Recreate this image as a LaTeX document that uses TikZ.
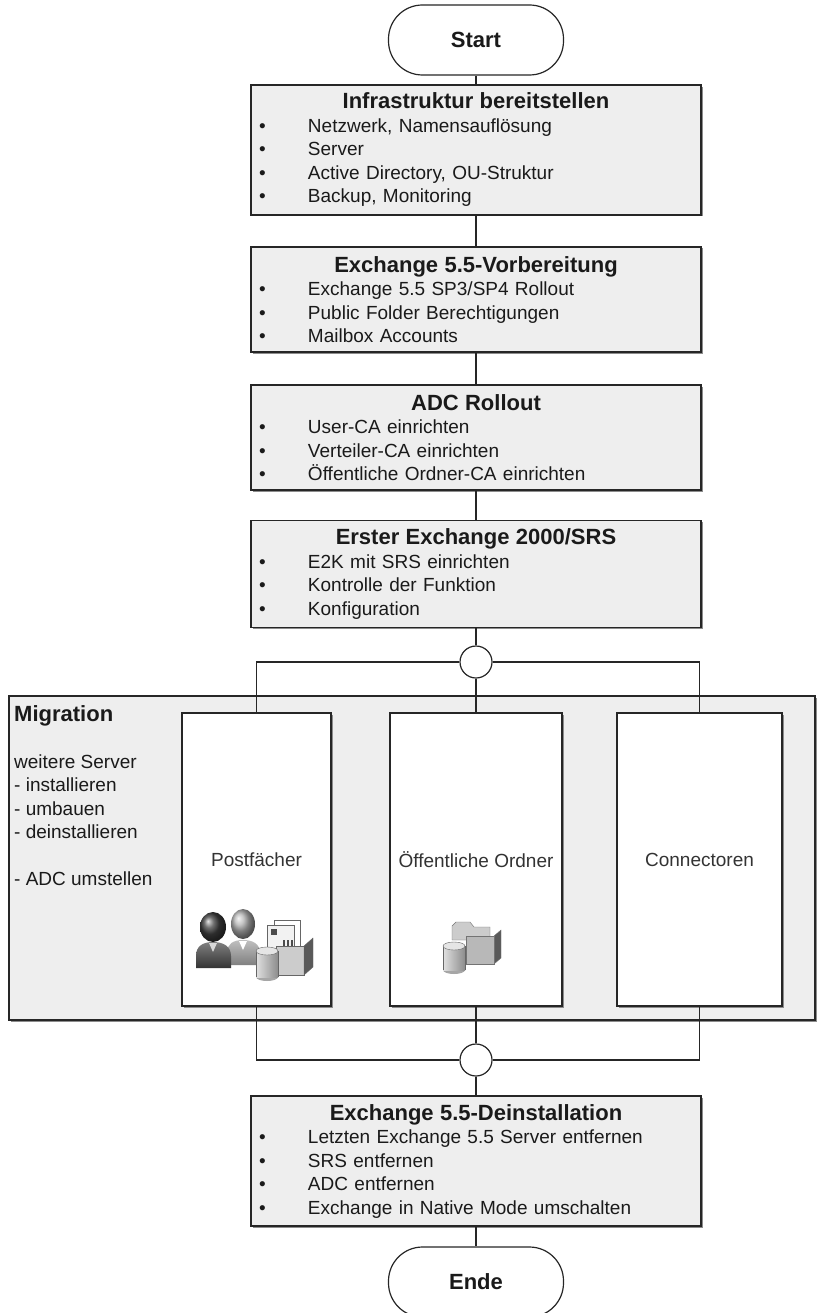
\documentclass[tikz,border=0pt]{standalone}
\usepackage{fontspec}
\setmainfont{Liberation Sans}
\usetikzlibrary{shadows}

\newcommand{\headfont}{\fontsize{22}{23.5}\selectfont\bfseries}
\newcommand{\bul}[1]{\makebox[49pt][l]{\textbullet}#1}
\newcommand{\phasetitle}[1]{\makebox[434pt]{\headfont #1}}

\begin{document}
\begin{tikzpicture}[x=1pt, y=-1pt,
    boxline/.style={draw=black!85, line width=1.2pt},
    shade box/.style={drop shadow={shadow xshift=1.5pt, shadow yshift=-1.5pt, fill=black!45, opacity=1}},
    terminal/.style={boxline, fill=white, rounded corners=34pt, minimum width=175pt, minimum height=70pt,
        text=TextGray, font=\headfont},
    phase/.style={boxline, shade box, fill=BoxGray, minimum width=450pt, text width=434pt, inner sep=8pt,
        align=left, text=TextGray, font=\fontsize{19}{23.5}\selectfont},
    pool/.style={boxline, shade box, fill=BoxGray, minimum width=806pt, minimum height=324pt},
    lane/.style={boxline, shade box, fill=white, minimum height=293pt, text=LabelGray,
        font=\fontsize{19}{23.5}\selectfont},
    junction/.style={boxline, circle, fill=white, minimum size=32pt, inner sep=0pt},
]
    \definecolor{BoxGray}{HTML}{EEEEEE}
    \definecolor{TextGray}{HTML}{1A1A1A}
    \definecolor{LabelGray}{HTML}{333333}
    \useasboundingbox (0,0) rectangle (816,1313);

    \node[terminal] (start) at (476,40) {Start};
    \node[phase, minimum height=124pt] (infra) at (476,150) {\phasetitle{Infrastruktur bereitstellen}\\
        \bul{Netzwerk, Namensauflösung}\\ \bul{Server}\\ \bul{Active Directory, OU-Struktur}\\
        \bul{Backup, Monitoring}};
    \node[phase, minimum height=105pt] (prep) at (476,299.5) {\phasetitle{Exchange 5.5-Vorbereitung}\\
        \bul{Exchange 5.5 SP3/SP4 Rollout}\\ \bul{Public Folder Berechtigungen}\\ \bul{Mailbox Accounts}};
    \node[phase, minimum height=105pt] (adc) at (476,437.5) {\phasetitle{ADC Rollout}\\
        \bul{User-CA einrichten}\\ \bul{Verteiler-CA einrichten}\\ \bul{Öffentliche Ordner-CA einrichten}};
    \node[phase, minimum height=104pt] (first) at (476,574) {\phasetitle{Erster Exchange 2000/SRS}\\
        \bul{E2K mit SRS einrichten}\\ \bul{Kontrolle der Funktion}\\ \bul{Konfiguration}};
    \node[junction] (split) at (476,662) {};

    \node[pool] (migration) at (412,858) {};
    \node[anchor=north west, align=left, inner sep=0pt, text=TextGray,
        font=\fontsize{19}{23.5}\selectfont] (migtext) at (14,705)
        {{\headfont Migration}\\ \mbox{}\\ weitere Server\\ - installieren\\ - umbauen\\ - deinstallieren\\
         \mbox{}\\ - ADC umstellen};
    \node[lane, minimum width=149pt] (post) at (256.5,859.5) {Postfächer};
    \node[lane, minimum width=172pt] (ordner) at (476,859.5) {Öffentliche Ordner};
    \node[lane, minimum width=165pt] (conn) at (699.5,859.5) {Connectoren};

    \node[junction] (merge) at (476,1060) {};
    \node[phase, minimum height=130pt] (deinst) at (476,1161) {\phasetitle{Exchange 5.5-Deinstallation}\\
        \bul{Letzten Exchange 5.5 Server entfernen}\\ \bul{SRS entfernen}\\ \bul{ADC entfernen}\\
        \bul{Exchange in Native Mode umschalten}};
    \node[terminal] (ende) at (476,1282) {Ende};

    % users with mailbox
    \shade[top color=black!25, bottom color=black!50] (227,965) -- (227,953)
        .. controls (227,944) and (233,940) .. (243,940) .. controls (253,940) and (260,944) .. (260,953) -- (260,965) -- cycle;
    \fill[white] (239,941) -- (243,950) -- (247,941) -- cycle;
    \shade[ball color=black!30] (243,924) ellipse (12 and 15);
    \shade[top color=black!50, bottom color=black!80] (196,968) -- (196,956)
        .. controls (196,946) and (203,942) .. (213,942) .. controls (223,942) and (231,946) .. (231,956) -- (231,968) -- cycle;
    \fill[black!15] (209,943) -- (213,952) -- (217,943) -- cycle;
    \shade[ball color=black!75] (213,927) ellipse (13 and 15);
    \draw[black!60, fill=white] (274,920) rectangle (300,950);
    \draw[black!60, fill=black!5] (267,925) rectangle (294,956);
    \fill[black!70] (271,929) rectangle (277,935);
    \foreach \k in {284,288,292}
        \draw[black!70, line width=1.2pt] (\k,940) -- (\k,952);
    \draw[black!60, fill=black!20] (276,946) rectangle (304,975);
    \draw[black!60, fill=black!65] (304,946) -- (313,938) -- (313,967) -- (304,975) -- cycle;
    \fill[black!35] (267,977) ellipse (11 and 4);
    \shade[left color=black!12, right color=black!45] (256,951) rectangle (278,977);
    \draw[black!60] (256,951) -- (256,977) (278,951) -- (278,977);
    \draw[black!60, fill=black!10] (267,951) ellipse (11 and 4);

    % public folder store
    \draw[black!55, fill=black!20] (452,940) -- (452,926) -- (456,922) -- (470,922) -- (474,927)
        -- (490,927) -- (490,940) -- cycle;
    \draw[black!55, fill=black!65] (494,936) -- (501,930) -- (501,958) -- (494,964) -- cycle;
    \draw[black!55, fill=black!28] (466,936) rectangle (494,964);
    \fill[black!35] (454,970) ellipse (11 and 4);
    \shade[left color=black!12, right color=black!45] (443,946) rectangle (465,970);
    \draw[black!60] (443,946) -- (443,970) (465,946) -- (465,970);
    \draw[black!60, fill=black!10] (454,946) ellipse (11 and 4);

    \draw[boxline] (start) -- (infra);
    \draw[boxline] (infra) -- (prep);
    \draw[boxline] (prep) -- (adc);
    \draw[boxline] (adc) -- (first);
    \draw[boxline] (first) -- (split);
    \draw[boxline] (split) -| (post);
    \draw[boxline] (split) -- (ordner);
    \draw[boxline] (split) -| (conn);
    \draw[boxline] (post) |- (merge);
    \draw[boxline] (ordner) -- (merge);
    \draw[boxline] (conn) |- (merge);
    \draw[boxline] (merge) -- (deinst);
    \draw[boxline] (deinst) -- (ende);
\end{tikzpicture}
\end{document}
